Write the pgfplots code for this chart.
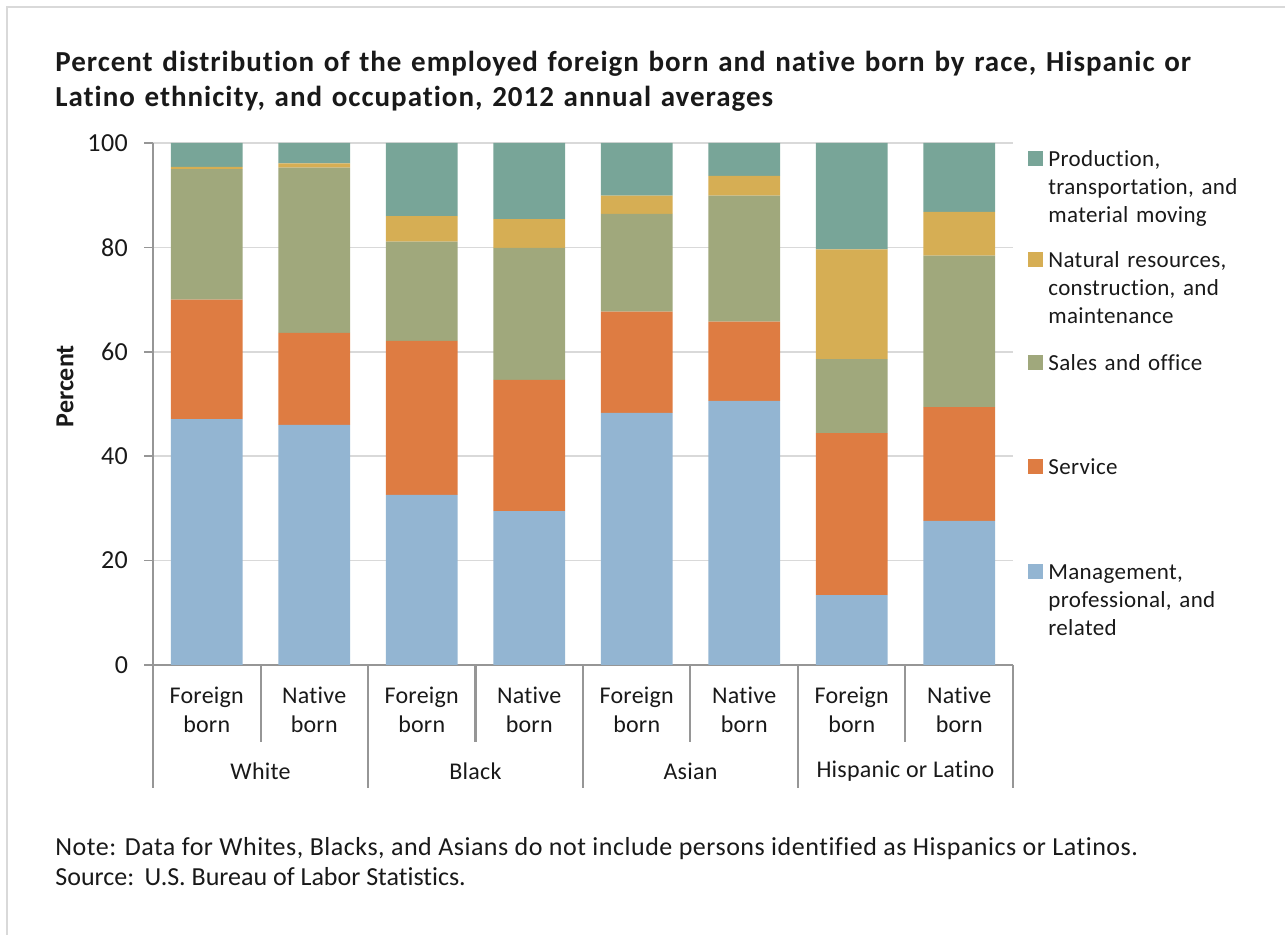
\documentclass[border=0pt]{standalone}
\usepackage{fontspec}
\setmainfont{Carlito}[Ligatures=NoCommon]
\usepackage{pgfplots}
\pgfplotsset{compat=1.18}
\definecolor{cMgmt}{RGB}{147,181,210}
\definecolor{cServ}{RGB}{222,124,66}
\definecolor{cSales}{RGB}{160,168,124}
\definecolor{cNat}{RGB}{214,174,84}
\definecolor{cProd}{RGB}{120,165,152}
\definecolor{cGrid}{RGB}{217,217,217}
\definecolor{cAxis}{RGB}{150,150,150}
\definecolor{cText}{RGB}{25,25,25}
\newcommand{\legfont}{\fontsize{11.5}{14}\selectfont\addfontfeatures{LetterSpace=1.5}}
\newcommand{\catfont}{\fontsize{12}{14.5}\selectfont\addfontfeatures{LetterSpace=1}}
\newcommand{\legitem}[3]{%
  \fill[#2] (axis cs:7.5,#1) ++(7.5pt,-3.75pt) rectangle ++(7.5pt,7.5pt);
  \path (axis cs:7.5,#1) ++(17.5pt,-4pt) node[anchor=base west, text width=120pt, align=left, inner sep=0pt, text=cText, font=\legfont] {#3};}
\begin{document}
\begin{tikzpicture}
\path[use as bounding box] (0,0) rectangle (642.5pt,467.5pt);
\draw[cGrid, line width=1pt] (3.5pt,0pt) -- (3.5pt,463.75pt) -- (642.5pt,463.75pt);
\node[anchor=base west, text width=620pt, align=left, inner sep=0pt, text=cText,
  font=\fontsize{14.5}{17.5}\selectfont\bfseries\addfontfeatures{LetterSpace=3.4}] at (27.5pt,431.5pt)
  {Percent distribution of the employed foreign born and native born by race, Hispanic or\\Latino ethnicity, and occupation, 2012 annual averages};
\node[anchor=base west, inner sep=0pt, text=cText,
  font=\fontsize{13}{15}\selectfont\addfontfeatures{LetterSpace=2}] at (27.5pt,39.5pt)
  {Note: Data for Whites, Blacks, and Asians do not include persons identified as Hispanics or Latinos.};
\node[anchor=base west, inner sep=0pt, text=cText,
  font=\fontsize{13}{15}\selectfont] at (27.5pt,24.5pt)
  {Source:\ \,U.S. Bureau of Labor Statistics.};
\begin{axis}[
  at={(76.5pt,135pt)}, anchor=south west,
  scale only axis, width=430pt, height=261pt,
  ybar stacked, bar width=0.667,
  xmin=-0.5, xmax=7.5, ymin=0, ymax=100,
  ytick={0,20,...,100},
  xtick={0,...,7},
  xticklabels={Foreign\\born, Native\\born, Foreign\\born, Native\\born, Foreign\\born, Native\\born, Foreign\\born, Native\\born},
  axis lines*=left,
  axis line style={cAxis, line width=1pt},
  ymajorgrids, grid style={cGrid, line width=0.8pt},
  tick align=outside, major tick length=4.5pt,
  ytick style={cAxis, line width=0.8pt},
  xtick style={draw=none},
  /pgf/number format/assume math mode=true,
  xticklabel style={font=\catfont, text=cText, align=center, yshift=-3pt},
  yticklabel style={font=\fontsize{13}{15}\selectfont\addfontfeatures{LetterSpace=2}, text=cText, xshift=-4.5pt},
  clip=false,
]
\addplot[fill=cMgmt, draw=none] coordinates {(0,47.1) (1,46.0) (2,32.6) (3,29.5) (4,48.3) (5,50.6) (6,13.4) (7,27.6)};
\addplot[fill=cServ, draw=none] coordinates {(0,22.9) (1,17.6) (2,29.5) (3,25.1) (4,19.4) (5,15.2) (6,31.0) (7,21.8)};
\addplot[fill=cSales, draw=none] coordinates {(0,25.0) (1,31.7) (2,19.0) (3,25.3) (4,18.7) (5,24.1) (6,14.2) (7,29.0)};
\addplot[fill=cNat, draw=none] coordinates {(0,0.4) (1,0.8) (2,4.9) (3,5.5) (4,3.5) (5,3.8) (6,21.0) (7,8.4)};
\addplot[fill=cProd, draw=none] coordinates {(0,4.6) (1,3.9) (2,14.0) (3,14.6) (4,10.1) (5,6.3) (6,20.4) (7,13.2)};
% separators
\draw[cAxis, line width=1pt] (axis cs:-0.5,0) -- ++(0pt,-61.5pt);
\draw[cAxis, line width=1pt] (axis cs:1.5,0) -- ++(0pt,-61.5pt);
\draw[cAxis, line width=1pt] (axis cs:3.5,0) -- ++(0pt,-61.5pt);
\draw[cAxis, line width=1pt] (axis cs:5.5,0) -- ++(0pt,-61.5pt);
\draw[cAxis, line width=1pt] (axis cs:7.5,0) -- ++(0pt,-61.5pt);
\draw[cAxis, line width=1pt] (axis cs:0.5,0) -- ++(0pt,-38.5pt);
\draw[cAxis, line width=1pt] (axis cs:2.5,0) -- ++(0pt,-38.5pt);
\draw[cAxis, line width=1pt] (axis cs:4.5,0) -- ++(0pt,-38.5pt);
\draw[cAxis, line width=1pt] (axis cs:6.5,0) -- ++(0pt,-38.5pt);
% group labels
\path (axis cs:0.5,0) ++(0pt,-53pt) node[font=\catfont, text=cText] {White};
\path (axis cs:2.5,0) ++(0pt,-53pt) node[font=\catfont, text=cText] {Black};
\path (axis cs:4.5,0) ++(0pt,-53pt) node[font=\catfont, text=cText] {Asian};
\path (axis cs:6.5,0) ++(0pt,-53pt) node[font=\catfont, text=cText] {Hispanic or Latino};
% y label
\path (axis cs:-0.5,53.4) ++(-44pt,0pt) node[rotate=90, font=\fontsize{13}{15}\selectfont\bfseries, text=cText] {Percent};
% legend
\legitem{97.1}{cProd}{Production,\\transportation, and\\material moving}
\legitem{77.6}{cNat}{Natural resources,\\construction, and\\maintenance}
\legitem{57.9}{cSales}{Sales and office}
\legitem{38.0}{cServ}{Service}
\legitem{17.9}{cMgmt}{Management,\\professional, and\\related}
\end{axis}
\end{tikzpicture}
\end{document}
